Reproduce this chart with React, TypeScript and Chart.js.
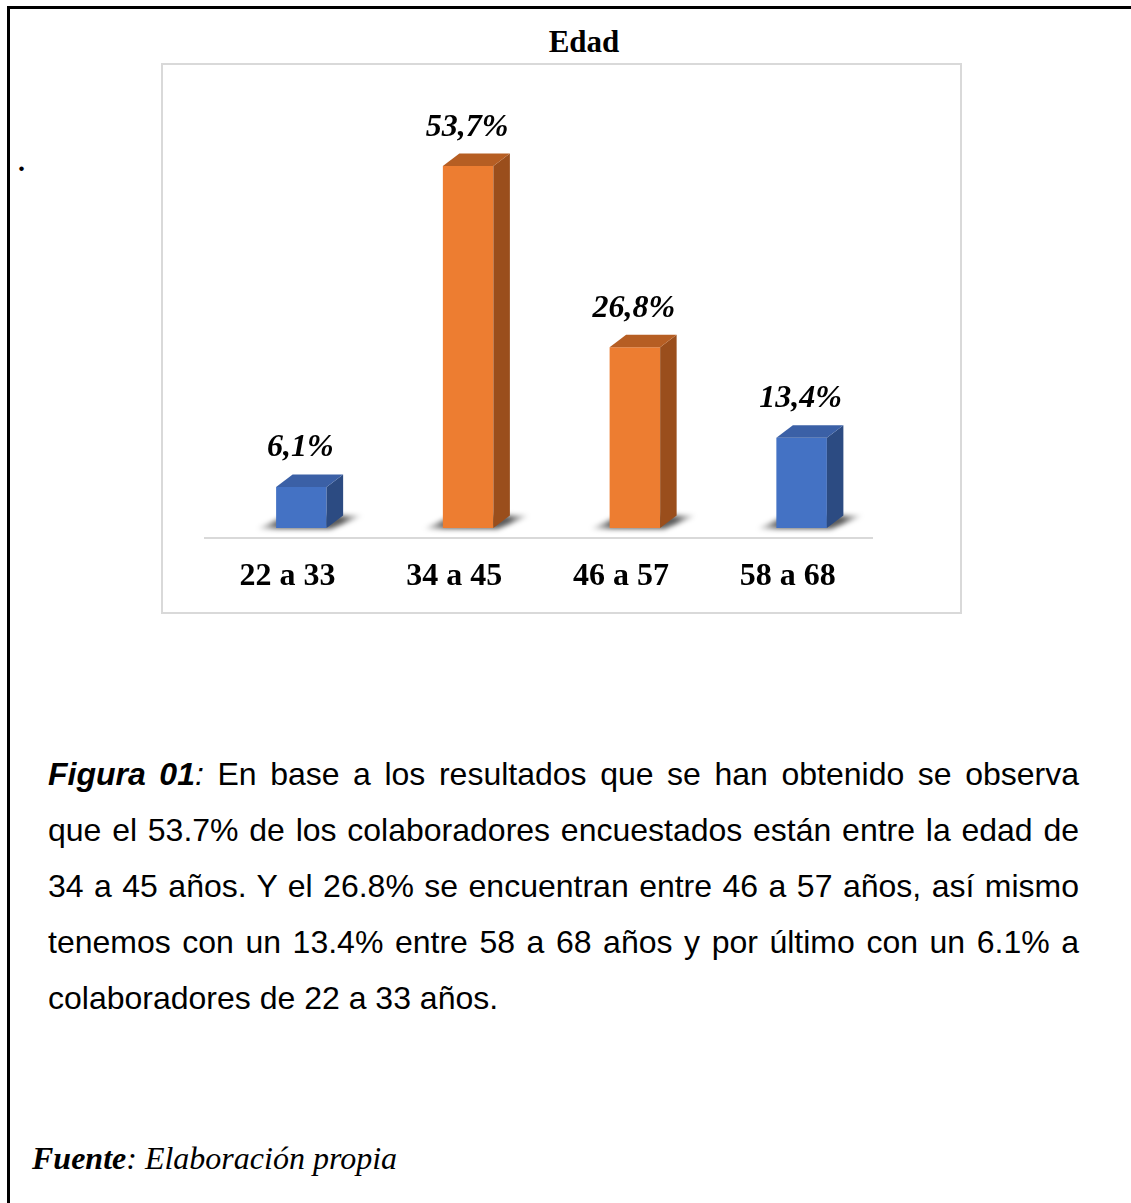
import React, { useEffect, useRef } from "react";
import { Chart, registerables } from "chart.js";

Chart.register(...registerables);

// ---- data ----
const categories = ["22 a 33", "34 a 45", "46 a 57", "58 a 68"];
const values = [6.1, 53.7, 26.8, 13.4];
const yMax = 60;

// ---- styles ----
const frontColors = ["#4472c4", "#ed7d31", "#ed7d31", "#4472c4"];
const topColors = ["#3b60a6", "#b65e23", "#b65e23", "#3b60a6"];
const sideColors = ["#2c4b82", "#9a4e1c", "#9a4e1c", "#2c4b82"];
const SERIF = "'Liberation Serif', 'Times New Roman', serif";
const SANS = "'Liberation Sans', Arial, sans-serif";
const DX = 16.5;
const DY = -12.5;

const bar3dPlugin = {
  id: "bar3d",
  beforeDatasetsDraw(chart: any) {
    const ctx = chart.ctx;
    const area = chart.chartArea;
    // floor front edge (axis line)
    ctx.save();
    ctx.strokeStyle = "#d9d9d9";
    ctx.lineWidth = 2;
    ctx.beginPath();
    ctx.moveTo(area.left - 14, area.bottom + 10);
    ctx.lineTo(area.right - 12, area.bottom + 10);
    ctx.stroke();
    ctx.restore();
    // floor shadows
    const meta = chart.getDatasetMeta(0);
    meta.data.forEach((el: any) => {
      const { x, base, width } = el.getProps(["x", "base", "width"], true);
      const left = x - width / 2;
      const right = x + width / 2;
      ctx.save();
      ctx.filter = "blur(2.5px)";
      const g = ctx.createLinearGradient(left - 20, 0, right + DX + 20, 0);
      g.addColorStop(0, "rgba(0,0,0,0)");
      g.addColorStop(0.2, "rgba(0,0,0,0.6)");
      g.addColorStop(0.8, "rgba(0,0,0,0.65)");
      g.addColorStop(1, "rgba(0,0,0,0)");
      ctx.fillStyle = g;
      ctx.beginPath();
      ctx.moveTo(left - 20, base + 1);
      ctx.lineTo(right + 4, base + 1);
      ctx.lineTo(right + DX + 20, base + DY);
      ctx.lineTo(left + DX - 6, base + DY);
      ctx.closePath();
      ctx.fill();
      ctx.restore();
    });
  },
  afterDatasetsDraw(chart: any) {
    const ctx = chart.ctx;
    const meta = chart.getDatasetMeta(0);
    meta.data.forEach((el: any, i: number) => {
      const { x, y, base, width } = el.getProps(["x", "y", "base", "width"], true);
      const left = x - width / 2;
      const right = x + width / 2;
      ctx.save();
      // side face
      ctx.fillStyle = sideColors[i];
      ctx.beginPath();
      ctx.moveTo(right, y);
      ctx.lineTo(right + DX, y + DY);
      ctx.lineTo(right + DX, base + DY);
      ctx.lineTo(right, base);
      ctx.closePath();
      ctx.fill();
      // top face
      ctx.fillStyle = topColors[i];
      ctx.beginPath();
      ctx.moveTo(left, y);
      ctx.lineTo(left + DX, y + DY);
      ctx.lineTo(right + DX, y + DY);
      ctx.lineTo(right, y);
      ctx.closePath();
      ctx.fill();
      // value label
      ctx.fillStyle = "#000";
      ctx.font = `italic bold 32px ${SERIF}`;
      ctx.textAlign = "center";
      ctx.textBaseline = "alphabetic";
      const label = values[i].toFixed(1).replace(".", ",") + "%";
      ctx.fillText(label, x - 1, y - 30.5);
      ctx.restore();
    });
  },
};

function ChartBox() {
  const ref = useRef<HTMLCanvasElement>(null);
  useEffect(() => {
    if (!ref.current) return;
    const chart = new Chart(ref.current, {
      type: "bar",
      data: {
        labels: categories,
        datasets: [
          {
            data: values,
            backgroundColor: frontColors,
            borderWidth: 0,
            barPercentage: 0.303,
            categoryPercentage: 1,
          },
        ],
      },
      options: {
        responsive: false,
        animation: false,
        devicePixelRatio: 1,
        layout: { padding: { left: 57, right: 77, top: 60.6, bottom: 0 } },
        plugins: {
          legend: { display: false },
          tooltip: { enabled: false },
          title: { display: false },
        },
        scales: {
          x: {
            grid: { display: false, drawTicks: false },
            border: { display: false },
            ticks: {
              color: "#000",
              font: { family: SERIF, size: 32, weight: "bold" },
              padding: 30,
              labelOffset: -14,
            },
            afterFit(scale: any) {
              scale.height = 86;
            },
          },
          y: {
            display: false,
            min: 0,
            max: yMax,
          },
        },
      },
      plugins: [bar3dPlugin],
    } as any);
    return () => chart.destroy();
  }, []);
  return (
    <canvas
      ref={ref}
      width={801}
      height={551}
      style={{ position: "absolute", left: 161, top: 63, width: 801, height: 551 }}
    />
  );
}

const lineStyle: React.CSSProperties = {
  height: 56,
  lineHeight: "56px",
  textAlign: "justify",
  textAlignLast: "justify",
  whiteSpace: "nowrap",
};

export default function App() {
  return (
    <div
      style={{
        position: "absolute",
        left: 0,
        top: 0,
        width: 1131,
        height: 1203,
        overflow: "hidden",
        background: "#fff",
      }}
    >
      <div
        style={{
          position: "absolute",
          left: 7,
          top: 6,
          width: 1400,
          height: 1400,
          border: "3px solid #000",
          boxSizing: "border-box",
        }}
      />
      <div
        style={{
          position: "absolute",
          left: 18,
          top: 148,
          font: `bold 28px ${SERIF}`,
          lineHeight: "28px",
        }}
      >
        .
      </div>
      <div
        style={{
          position: "absolute",
          left: 161,
          top: 63,
          width: 801,
          height: 551,
          border: "2px solid #d9d9d9",
          boxSizing: "border-box",
        }}
      />
      <div
        style={{
          position: "absolute",
          left: 484,
          top: 24,
          width: 200,
          textAlign: "center",
          font: `bold 31px ${SERIF}`,
          lineHeight: "36px",
        }}
      >
        Edad
      </div>
      <ChartBox />
      <div
        style={{
          position: "absolute",
          left: 48,
          top: 746,
          width: 1031,
          font: `32px ${SANS}`,
          color: "#000",
        }}
      >
        <div style={lineStyle}>
          <b>
            <i>Figura 01</i>
          </b>
          <i>:</i> En base a los resultados que se han obtenido se observa
        </div>
        <div style={lineStyle}>que el 53.7% de los colaboradores encuestados están entre la edad de</div>
        <div style={lineStyle}>34 a 45 años. Y el 26.8% se encuentran entre 46 a 57 años, así mismo</div>
        <div style={lineStyle}>tenemos con un 13.4% entre 58 a 68 años y por último con un 6.1% a</div>
        <div style={{ ...lineStyle, textAlign: "left", textAlignLast: "left" }}>
          colaboradores de 22 a 33 años.
        </div>
      </div>
      <div
        style={{
          position: "absolute",
          left: 32,
          top: 1142,
          font: `italic 32px ${SERIF}`,
          lineHeight: "32px",
          whiteSpace: "nowrap",
        }}
      >
        <b>Fuente</b>: Elaboración propia
      </div>
    </div>
  );
}
